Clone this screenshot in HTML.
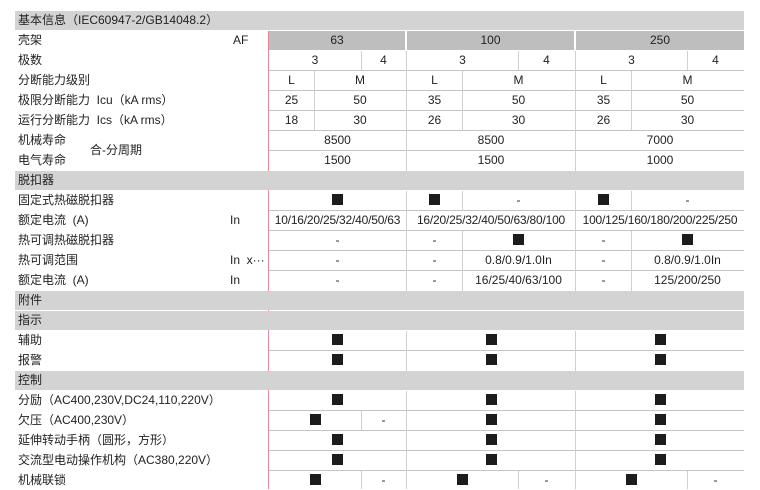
<!DOCTYPE html>
<html><head><meta charset="utf-8"><style>
*{margin:0;padding:0;box-sizing:border-box}
body{width:760px;height:489px;background:#fff;position:relative;overflow:hidden;font-family:"Liberation Sans","Noto Sans CJK SC",sans-serif;font-size:12px;color:#222}
.g{position:absolute;left:15px;width:729px;height:19px;background:#d3d3d4;line-height:19px;padding-left:3px}
.h{position:absolute;height:19px;background:#bebebf;line-height:19px;text-align:center}
.l{position:absolute;left:18px;line-height:19px;height:19px;white-space:nowrap}
.u{position:absolute;left:230px;line-height:19px;height:19px;white-space:nowrap}
.c{position:absolute;height:19px;line-height:19px;text-align:center;white-space:nowrap}
.hl{position:absolute;left:269px;width:475px;height:1px;background:#c4c4c4}
.vl{position:absolute;width:1px;background:#d0d0d0}
.sq{display:inline-block;width:11px;height:11px;background:#1c1c1c;vertical-align:-1px}
.red{position:absolute;left:268px;width:1px;background:#e8889a}
</style></head><body>
<div class="g" style="top:11px">基本信息（IEC60947-2/GB14048.2）</div>
<div class="red" style="top:31px;height:458px"></div>
<div class="g" style="top:171px">脱扣器</div>
<div class="g" style="top:291px">附件</div>
<div class="g" style="top:311px">指示</div>
<div class="g" style="top:371px">控制</div>

<!-- horizontal lines -->
<div class="hl" style="top:70px"></div><div class="hl" style="top:90px"></div><div class="hl" style="top:110px"></div><div class="hl" style="top:130px"></div><div class="hl" style="top:150px"></div>
<div class="hl" style="top:210px"></div><div class="hl" style="top:230px"></div><div class="hl" style="top:250px"></div><div class="hl" style="top:270px"></div>
<div class="hl" style="top:350px"></div>
<div class="hl" style="top:410px"></div><div class="hl" style="top:430px"></div><div class="hl" style="top:450px"></div><div class="hl" style="top:470px"></div>

<!-- main vertical dividers -->
<div class="vl" style="left:406px;top:51px;height:120px"></div><div class="vl" style="left:575px;top:51px;height:120px"></div>
<div class="vl" style="left:406px;top:191px;height:100px"></div><div class="vl" style="left:575px;top:191px;height:100px"></div>
<div class="vl" style="left:406px;top:331px;height:40px"></div><div class="vl" style="left:575px;top:331px;height:40px"></div>
<div class="vl" style="left:406px;top:391px;height:98px"></div><div class="vl" style="left:575px;top:391px;height:98px"></div>
<!-- sub dividers -->
<div class="vl" style="left:361px;top:51px;height:19px"></div><div class="vl" style="left:518px;top:51px;height:19px"></div><div class="vl" style="left:687px;top:51px;height:19px"></div>
<div class="vl" style="left:314px;top:71px;height:59px"></div><div class="vl" style="left:462px;top:71px;height:59px"></div><div class="vl" style="left:631px;top:71px;height:59px"></div>
<div class="vl" style="left:462px;top:191px;height:19px"></div><div class="vl" style="left:631px;top:191px;height:19px"></div>
<div class="vl" style="left:462px;top:231px;height:60px"></div><div class="vl" style="left:631px;top:231px;height:60px"></div>
<div class="vl" style="left:361px;top:411px;height:19px"></div>
<div class="vl" style="left:361px;top:471px;height:18px"></div><div class="vl" style="left:518px;top:471px;height:18px"></div><div class="vl" style="left:687px;top:471px;height:18px"></div>

<!-- labels -->
<div class="l" style="top:31px">壳架</div><div class="u" style="top:31px;left:233px">AF</div>
<div class="l" style="top:51px">极数</div>
<div class="l" style="top:71px">分断能力级别</div>
<div class="l" style="top:91px">极限分断能力&nbsp; Icu（kA rms）</div>
<div class="l" style="top:111px">运行分断能力&nbsp; Ics（kA rms）</div>
<div class="l" style="top:131px">机械寿命</div>
<div class="l" style="top:151px">电气寿命</div>
<div class="l" style="top:141px;left:90px">合-分周期</div>
<div class="l" style="top:191px">固定式热磁脱扣器</div>
<div class="l" style="top:211px">额定电流&nbsp; (A)</div><div class="u" style="top:211px">In</div>
<div class="l" style="top:231px">热可调热磁脱扣器</div>
<div class="l" style="top:251px">热可调范围</div><div class="u" style="top:251px">In&nbsp; x···</div>
<div class="l" style="top:271px">额定电流&nbsp; (A)</div><div class="u" style="top:271px">In</div>
<div class="l" style="top:331px">辅助</div>
<div class="l" style="top:351px">报警</div>
<div class="l" style="top:391px">分励（AC400,230V,DC24,110,220V）</div>
<div class="l" style="top:411px">欠压（AC400,230V）</div>
<div class="l" style="top:431px">延伸转动手柄（圆形，方形）</div>
<div class="l" style="top:451px">交流型电动操作机构（AC380,220V）</div>
<div class="l" style="top:471px">机械联锁</div>

<!-- AF row -->
<div class="h" style="top:31px;left:269px;width:136px">63</div>
<div class="h" style="top:31px;left:407px;width:167px">100</div>
<div class="h" style="top:31px;left:576px;width:168px">250</div>
<!-- poles -->
<div class="c" style="top:51px;left:269px;width:92px">3</div><div class="c" style="top:51px;left:361px;width:45px">4</div>
<div class="c" style="top:51px;left:407px;width:111px">3</div><div class="c" style="top:51px;left:518px;width:57px">4</div>
<div class="c" style="top:51px;left:576px;width:111px">3</div><div class="c" style="top:51px;left:687px;width:57px">4</div>
<!-- L M -->
<div class="c" style="top:71px;left:269px;width:45px">L</div><div class="c" style="top:71px;left:314px;width:92px">M</div>
<div class="c" style="top:71px;left:407px;width:55px">L</div><div class="c" style="top:71px;left:462px;width:113px">M</div>
<div class="c" style="top:71px;left:576px;width:55px">L</div><div class="c" style="top:71px;left:631px;width:113px">M</div>
<div class="c" style="top:91px;left:269px;width:45px">25</div><div class="c" style="top:91px;left:314px;width:92px">50</div>
<div class="c" style="top:91px;left:407px;width:55px">35</div><div class="c" style="top:91px;left:462px;width:113px">50</div>
<div class="c" style="top:91px;left:576px;width:55px">35</div><div class="c" style="top:91px;left:631px;width:113px">50</div>
<div class="c" style="top:111px;left:269px;width:45px">18</div><div class="c" style="top:111px;left:314px;width:92px">30</div>
<div class="c" style="top:111px;left:407px;width:55px">26</div><div class="c" style="top:111px;left:462px;width:113px">30</div>
<div class="c" style="top:111px;left:576px;width:55px">26</div><div class="c" style="top:111px;left:631px;width:113px">30</div>
<div class="c" style="top:131px;left:269px;width:137px">8500</div><div class="c" style="top:131px;left:407px;width:168px">8500</div><div class="c" style="top:131px;left:576px;width:168px">7000</div>
<div class="c" style="top:151px;left:269px;width:137px">1500</div><div class="c" style="top:151px;left:407px;width:168px">1500</div><div class="c" style="top:151px;left:576px;width:168px">1000</div>

<!-- trip -->
<div class="c" style="top:191px;left:269px;width:137px"><span class="sq"></span></div>
<div class="c" style="top:191px;left:407px;width:55px"><span class="sq"></span></div><div class="c" style="top:191px;left:462px;width:113px">-</div>
<div class="c" style="top:191px;left:576px;width:55px"><span class="sq"></span></div><div class="c" style="top:191px;left:631px;width:113px">-</div>
<div class="c" style="top:211px;left:269px;width:137px;letter-spacing:-0.2px">10/16/20/25/32/40/50/63</div>
<div class="c" style="top:211px;left:407px;width:168px;letter-spacing:-0.2px">16/20/25/32/40/50/63/80/100</div>
<div class="c" style="top:211px;left:576px;width:168px;letter-spacing:-0.2px">100/125/160/180/200/225/250</div>
<div class="c" style="top:231px;left:269px;width:137px">-</div>
<div class="c" style="top:231px;left:407px;width:55px">-</div><div class="c" style="top:231px;left:462px;width:113px"><span class="sq"></span></div>
<div class="c" style="top:231px;left:576px;width:55px">-</div><div class="c" style="top:231px;left:631px;width:113px"><span class="sq"></span></div>
<div class="c" style="top:251px;left:269px;width:137px">-</div>
<div class="c" style="top:251px;left:407px;width:55px">-</div><div class="c" style="top:251px;left:462px;width:113px">0.8/0.9/1.0In</div>
<div class="c" style="top:251px;left:576px;width:55px">-</div><div class="c" style="top:251px;left:631px;width:113px">0.8/0.9/1.0In</div>
<div class="c" style="top:271px;left:269px;width:137px">-</div>
<div class="c" style="top:271px;left:407px;width:55px">-</div><div class="c" style="top:271px;left:462px;width:113px">16/25/40/63/100</div>
<div class="c" style="top:271px;left:576px;width:55px">-</div><div class="c" style="top:271px;left:631px;width:113px">125/200/250</div>

<!-- indication -->
<div class="c" style="top:331px;left:269px;width:137px"><span class="sq"></span></div><div class="c" style="top:331px;left:407px;width:168px"><span class="sq"></span></div><div class="c" style="top:331px;left:576px;width:168px"><span class="sq"></span></div>
<div class="c" style="top:351px;left:269px;width:137px"><span class="sq"></span></div><div class="c" style="top:351px;left:407px;width:168px"><span class="sq"></span></div><div class="c" style="top:351px;left:576px;width:168px"><span class="sq"></span></div>

<!-- control -->
<div class="c" style="top:391px;left:269px;width:137px"><span class="sq"></span></div><div class="c" style="top:391px;left:407px;width:168px"><span class="sq"></span></div><div class="c" style="top:391px;left:576px;width:168px"><span class="sq"></span></div>
<div class="c" style="top:411px;left:269px;width:92px"><span class="sq"></span></div><div class="c" style="top:411px;left:361px;width:45px">-</div><div class="c" style="top:411px;left:407px;width:168px"><span class="sq"></span></div><div class="c" style="top:411px;left:576px;width:168px"><span class="sq"></span></div>
<div class="c" style="top:431px;left:269px;width:137px"><span class="sq"></span></div><div class="c" style="top:431px;left:407px;width:168px"><span class="sq"></span></div><div class="c" style="top:431px;left:576px;width:168px"><span class="sq"></span></div>
<div class="c" style="top:451px;left:269px;width:137px"><span class="sq"></span></div><div class="c" style="top:451px;left:407px;width:168px"><span class="sq"></span></div><div class="c" style="top:451px;left:576px;width:168px"><span class="sq"></span></div>
<div class="c" style="top:471px;left:269px;width:92px"><span class="sq"></span></div><div class="c" style="top:471px;left:361px;width:45px">-</div>
<div class="c" style="top:471px;left:407px;width:111px"><span class="sq"></span></div><div class="c" style="top:471px;left:518px;width:57px">-</div>
<div class="c" style="top:471px;left:576px;width:111px"><span class="sq"></span></div><div class="c" style="top:471px;left:687px;width:57px">-</div>
</body></html>
